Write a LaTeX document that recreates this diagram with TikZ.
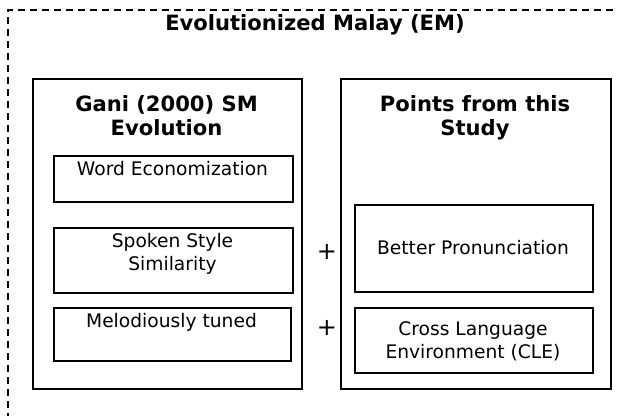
\documentclass[tikz,border=0pt]{standalone}
\usepackage{fontspec}
\setmainfont{DejaVu Sans}
\begin{document}
\begin{tikzpicture}[x=0.75pt,y=-0.75pt,
  outerbox/.style={draw=black,line width=1.3pt,rectangle,inner sep=0pt,anchor=north west},
  itembox/.style={draw=black,line width=1.5pt,rectangle,inner sep=0pt,anchor=north west},
  titletxt/.style={font=\fontsize{15.8}{18}\selectfont\bfseries,align=center,inner sep=0pt,anchor=base},
  itemtxt/.style={font=\fontsize{14}{17.2}\selectfont,align=center,inner sep=0pt,anchor=base},
  plustxt/.style={font=\fontsize{18}{20}\selectfont,inner sep=0pt}]
\useasboundingbox (0,0) rectangle (617,415);
% dashed outer frame (runs off the right and bottom edges)
\coordinate (frameBL) at (8,420);
\coordinate (frameTL) at (8,10);
\coordinate (frameTR) at (625,10);
\draw[line width=1pt,dash pattern=on 5.5pt off 3.5pt] (frameBL) -- (frameTL) -- (frameTR);
\node[titletxt] (emtitle) at (315,30) {Evolutionized Malay (EM)};
% left column
\node[outerbox,minimum width=201.75pt,minimum height=232.5pt] (gani) at (32,78) {};
\node[titletxt] (ganititle) at (166.5,135) {Gani (2000) SM\\Evolution};
\node[itembox,minimum width=179.25pt,minimum height=34.5pt] (word) at (53,155) {};
\node[itemtxt] (wordtxt) at (172.5,175) {Word Economization};
\node[itembox,minimum width=179.25pt,minimum height=48.75pt] (spoken) at (53,227) {};
\node[itemtxt] (spokentxt) at (172.5,270) {Spoken Style\\Similarity};
\node[itembox,minimum width=177.75pt,minimum height=39.75pt] (melo) at (53,307) {};
\node[itemtxt] (melotxt) at (171.5,327) {Melodiously tuned};
% right column
\node[outerbox,minimum width=202.5pt,minimum height=232.5pt] (points) at (340,78) {};
\node[titletxt] (pointstitle) at (475,135) {Points from this\\Study};
\node[itembox,minimum width=178.5pt,minimum height=65.25pt] (better) at (354,204) {};
\node[itemtxt] (bettertxt) at (473,254) {Better Pronunciation};
\node[itembox,minimum width=178.5pt,minimum height=48.75pt] (cle) at (354,307) {};
\node[itemtxt] (cletxt) at (473,358) {Cross Language\\Environment (CLE)};
% plus signs
\node[plustxt] (plusA) at (327,252) {+};
\node[plustxt] (plusB) at (327,328) {+};
\end{tikzpicture}
\end{document}
